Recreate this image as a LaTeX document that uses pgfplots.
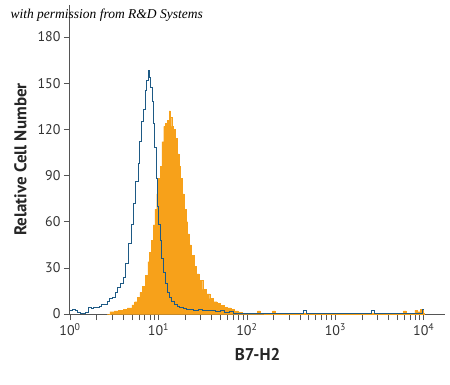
\documentclass[border=0pt]{standalone}
\usepackage{fontspec}
\setmainfont{PT Sans}
\newfontfamily\wmfont{Liberation Serif}
\usepackage{pgfplots}
\pgfplotsset{compat=1.18}
\definecolor{orangeF}{HTML}{F7A11A}
\definecolor{blueL}{HTML}{1E5A85}
\definecolor{axisgray}{HTML}{555555}
\begin{document}
\begin{tikzpicture}
\path[use as bounding box] (-70pt,-70pt) rectangle (380pt,314pt);
\begin{axis}[at={(0,0)},anchor=south west, scale only axis, width=375pt, height=309pt,
xmin=0, xmax=4.24, ymin=0, ymax=200.8,
axis lines=left, axis line style={axisgray, line width=1pt, -},
xtick={0,1,2,3,4},
xticklabels={10\textsuperscript{0},10\textsuperscript{1},10\textsuperscript{2},10\textsuperscript{3},10\textsuperscript{4}},
minor xtick={0.301,0.477,0.602,0.699,0.778,0.845,0.903,0.954,
1.301,1.477,1.602,1.699,1.778,1.845,1.903,1.954,
2.301,2.477,2.602,2.699,2.778,2.845,2.903,2.954,
3.301,3.477,3.602,3.699,3.778,3.845,3.903,3.954},
ytick={0,30,60,90,120,150,180},
tick align=outside, major tick length=6pt, minor tick length=6pt,
tick style={axisgray, line width=0.6pt},
ticklabel style={font=\fontsize{14}{14}\selectfont, text=black!80},
/pgf/number format/assume math mode=true,
xlabel={\bfseries B7-H2}, ylabel={\bfseries Relative Cell Number},
label style={font=\fontsize{17}{17}\selectfont, text=black!85},
xlabel style={yshift=-6pt},
ylabel style={yshift=4pt},
clip=false]
\addplot[const plot, fill=orangeF, draw=orangeF, line width=0.3pt] coordinates {
(0.42,0) (0.45,1.5) (0.50,2) (0.55,2.5) (0.60,3) (0.65,4) (0.70,6) (0.73,8) (0.76,11)
(0.79,14) (0.82,18) (0.85,25) (0.88,34) (0.90,40) (0.92,48) (0.94,58) (0.96,68)
(0.98,78) (1.00,88) (1.02,96) (1.04,112) (1.06,122) (1.08,124) (1.10,126) (1.12,132)
(1.135,128) (1.15,122) (1.17,120) (1.19,114) (1.21,104) (1.23,96) (1.25,88) (1.27,78)
(1.29,68) (1.31,60) (1.33,52) (1.35,45) (1.37,38) (1.40,31) (1.43,26) (1.46,22)
(1.50,16) (1.54,13) (1.58,10) (1.62,8) (1.66,7) (1.70,5.5) (1.74,4.5) (1.78,4)
(1.82,3) (1.86,2) (1.90,1) (1.95,0.5) (2.0,0.3) (2.10,0.3) (2.12,2) (2.15,0.3)
(2.27,0.3) (2.29,2) (2.32,0.3) (3.0,0.3) (3.75,0.3) (3.77,2) (3.80,0.3) (3.88,0.3)
(3.90,2.5) (3.93,1.5) (3.96,3) (3.99,0.3) (4.0,0)
} \closedcycle;
\addplot[const plot, blueL, line width=1pt] coordinates {
(0.00,2) (0.03,3) (0.06,2) (0.09,1) (0.12,0.5) (0.15,0.5) (0.18,1) (0.21,4) (0.24,3.5)
(0.27,4) (0.30,4.5) (0.33,5) (0.36,6) (0.39,6.5) (0.42,8) (0.45,10) (0.48,11)
(0.51,14) (0.54,17) (0.57,20) (0.60,24) (0.63,33) (0.66,46) (0.69,58) (0.72,72)
(0.745,86) (0.77,98) (0.79,112) (0.81,125) (0.83,133) (0.85,145) (0.87,152)
(0.885,158) (0.90,154) (0.915,147) (0.93,138) (0.945,124) (0.96,108) (0.975,88)
(0.99,70) (1.005,58) (1.02,48) (1.04,36) (1.06,27) (1.08,20) (1.10,14) (1.12,11)
(1.15,8) (1.18,6) (1.21,5) (1.24,4) (1.28,3.5) (1.32,3) (1.36,3) (1.40,2.5)
(1.45,3) (1.50,2) (1.55,2.5) (1.60,2) (1.65,1.5) (1.70,2.5) (1.75,1) (1.80,1.5)
(1.85,0.5) (1.9,0.5) (2.0,0.3) (2.1,0.3) (2.3,0.2) (2.62,0.2) (2.64,2) (2.67,0.2)
(3.0,0.2) (3.38,0.2) (3.41,2.5) (3.44,0.2) (3.8,0.3) (3.97,0.5) (3.99,3) (4.0,3)
};
\end{axis}
\node[anchor=west, font=\wmfont\itshape\fontsize{13.5}{13.5}\selectfont] at (-63pt,299pt) {with permission from R\&D Systems};
\end{tikzpicture}
\end{document}
